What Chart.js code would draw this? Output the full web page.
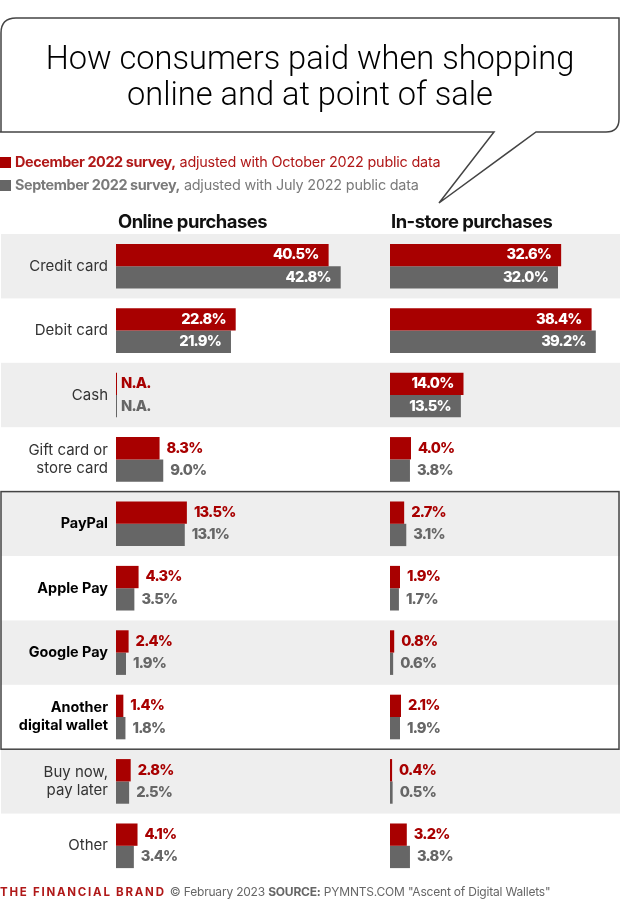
<!DOCTYPE html>
<html>
<head>
<meta charset="utf-8">
<title>How consumers paid</title>
<script src="https://cdn.jsdelivr.net/npm/chart.js@4.5.0/dist/chart.umd.min.js"></script>
<style>
  html, body { margin: 0; background: #fff; }
  #page { position: relative; width: 620px; height: 913px; overflow: hidden; font-family: Inter, sans-serif; }
  #page > * { position: absolute; }
  canvas { left: 0; top: 0; }
  svg { left: 0; top: 0; }
  #title { left: 0; width: 620px; top: 40px; text-align: center; font: 300 32.6px/36px Roboto, sans-serif; color: #000; }
  .key { left: 0; white-space: nowrap; font-size: 14.4px; line-height: 18px; letter-spacing: -0.2px; }
  .key i { display: inline-block; width: 11px; height: 11px; margin-right: 4px; vertical-align: -1px; }
  .key b { font-weight: 700; letter-spacing: -0.4px; }
  .head { top: 210px; font-size: 18.4px; line-height: 22px; font-weight: 700; color: #111; letter-spacing: -0.5px; white-space: nowrap; }
  #foot { left: 0; top: 883px; font-size: 12px; line-height: 18px; color: #666; white-space: nowrap; letter-spacing: -0.2px; }
  #foot .brand { color: #b01818; font-weight: 700; font-size: 11.5px; letter-spacing: 1.75px; margin-right: 1px; }
</style>
</head>
<body>
<div id="page">
  <canvas id="chart" width="620" height="913"></canvas>
  <svg width="620" height="913">
    <path d="M-2 132 H494 L439 203 L536 132 H606 Q619 132 619 119 V18 H16 Q1 18 1 33 V132" fill="#fff" stroke="#444" stroke-width="1.5"/>
  </svg>
  <div id="title">How consumers paid when shopping<br>online and at point of sale</div>
  <div class="key" style="top:153px;color:#b01818"><i style="background:#a80000"></i><b>December 2022 survey,</b> adjusted with October 2022 public data</div>
  <div class="key" style="top:176px;color:#7a7a7a"><i style="background:#666"></i><b>September 2022 survey,</b> adjusted with July 2022 public data</div>
  <div class="head" style="left:118px">Online purchases</div>
  <div class="head" style="left:391px">In-store purchases</div>
  <div id="foot"><span class="brand">THE FINANCIAL BRAND</span> © February 2023 <b>SOURCE:</b> PYMNTS.COM "Ascent of Digital Wallets"</div>
</div>
<script>
const categories = ["Credit card", "Debit card", "Cash", ["Gift card or", "store card"], "PayPal", "Apple Pay", "Google Pay", ["Another", "digital wallet"], ["Buy now,", "pay later"], "Other"];
// 0 = N.A. in the survey, drawn as a hairline
const onlineDec = [40.5, 22.8, 0, 8.3, 13.5, 4.3, 2.4, 1.4, 2.8, 4.1];
const onlineSep = [42.8, 21.9, 0, 9.0, 13.1, 3.5, 1.9, 1.8, 2.5, 3.4];
const storeDec = [32.6, 38.4, 14.0, 4.0, 2.7, 1.9, 0.8, 2.1, 0.4, 3.2];
const storeSep = [32.0, 39.2, 13.5, 3.8, 3.1, 1.7, 0.6, 1.9, 0.5, 3.8];
const walletRows = [4, 5, 6, 7];

const RED = "#a80000";
const GREY = "#666666";
const FONT = "Inter, sans-serif";

// one plot area, two hidden x axes at the same px-per-percent
const PX_PER_PCT = 5.25;
const AREA_W = 504;
const STORE_SHIFT = 274 / PX_PER_PCT;

// grey bands behind every other row + box around the digital wallets
const rowDecor = {
  id: "rowDecor",
  beforeDraw(chart) {
    const { ctx, scales: { y } } = chart;
    const h = y.getPixelForTick(1) - y.getPixelForTick(0);
    ctx.save();
    ctx.fillStyle = "#eeeeee";
    categories.forEach((_, i) => {
      if (i % 2 === 0) ctx.fillRect(1, y.getPixelForTick(i) - h / 2, 619, h);
    });
    ctx.restore();
  },
  afterDatasetsDraw(chart) {
    const { ctx, scales: { y } } = chart;
    const h = y.getPixelForTick(1) - y.getPixelForTick(0);
    const top = y.getPixelForTick(walletRows[0]) - h / 2;
    const bottom = y.getPixelForTick(walletRows[walletRows.length - 1]) + h / 2;
    ctx.save();
    ctx.strokeStyle = "#444";
    ctx.lineWidth = 1.5;
    ctx.strokeRect(1, top, 618, bottom - top);
    ctx.restore();
  },
};

// value labels: white inside long bars, series colour next to short ones
const valueLabels = {
  id: "valueLabels",
  afterDatasetsDraw(chart) {
    const { ctx } = chart;
    ctx.save();
    ctx.font = "800 14.7px " + FONT;
    ctx.letterSpacing = "-0.8px";
    ctx.textBaseline = "middle";
    chart.data.datasets.forEach((ds, d) => {
      chart.getDatasetMeta(d).data.forEach((bar, i) => {
        const v = ds.data[i];
        const inside = v >= ds.insideFrom;
        ctx.fillStyle = inside ? "#fff" : ds.backgroundColor;
        ctx.textAlign = inside ? "right" : "left";
        const txt = v === 0 ? "N.A." : v.toFixed(1) + "%";
        const x = inside ? bar.x - 10 : bar.x + (v === 0 ? 4 : 7);
        ctx.fillText(txt, x, bar.y);
      });
    });
    ctx.restore();
  },
};

const series = (label, data, color, axis, stack, insideFrom) => ({
  label, data, xAxisID: axis, stack, insideFrom,
  backgroundColor: color, borderWidth: 0, minBarLength: 1,
  barPercentage: 1, categoryPercentage: 0.693,
});

new Chart(document.getElementById("chart"), {
  type: "bar",
  data: {
    labels: categories,
    datasets: [
      series("December 2022, online", onlineDec, RED, "online", "dec", 20),
      series("September 2022, online", onlineSep, GREY, "online", "sep", 20),
      series("December 2022, in-store", storeDec, RED, "store", "dec", 10),
      series("September 2022, in-store", storeSep, GREY, "store", "sep", 10),
    ],
  },
  options: {
    indexAxis: "y",
    responsive: false,
    animation: false,
    layout: { padding: { top: 234, bottom: 35, left: 0, right: 0 } },
    scales: {
      online: { type: "linear", axis: "x", display: false, min: 0, max: AREA_W / PX_PER_PCT },
      store: { type: "linear", axis: "x", display: false, min: -STORE_SHIFT, max: AREA_W / PX_PER_PCT - STORE_SHIFT },
      y: {
        stacked: true,
        afterFit: (s) => { s.width = 116; },
        grid: { display: false, drawTicks: false },
        border: { display: false },
        ticks: {
          padding: 8,
          autoSkip: false,
          color: (c) => (walletRows.includes(c.index) ? "#000" : "#333"),
          font: (c) => ({ family: FONT, size: walletRows.includes(c.index) ? 14.4 : 15, lineHeight: 1.25, weight: walletRows.includes(c.index) ? "700" : "400" }),
        },
      },
    },
    plugins: { legend: { display: false }, tooltip: { enabled: false } },
  },
  plugins: [rowDecor, valueLabels],
});
</script>
</body>
</html>
